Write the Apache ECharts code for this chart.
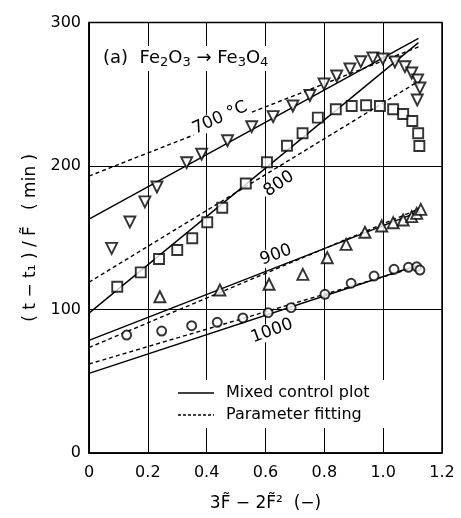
<!DOCTYPE html>
<html><head><meta charset="utf-8">
<script src="https://cdn.jsdelivr.net/npm/echarts@6/dist/echarts.min.js"></script>
<style>html,body{margin:0;padding:0;background:#fff}#c{width:461px;height:518px}</style>
</head><body><div id="c"></div>
<script>
// ---- data ----
const xTicks = [0, 0.2, 0.4, 0.6, 0.8, 1.0, 1.2];
const yTicks = [0, 100, 200, 300];

const pts700 = [[0.077,142.6],[0.139,161],[0.19,175],[0.231,185.4],[0.332,202.3],[0.383,208.2],[0.471,217.6],[0.553,227.4],[0.626,234.4],[0.693,241.8],[0.751,249.1],[0.799,257.1],[0.842,262.7],[0.887,267.6],[0.924,272.7],[0.965,275.3],[0.999,274.6],[1.04,272.5],[1.074,269.2],[1.097,264.8],[1.117,259.9],[1.125,254.4],[1.116,246]];
const pts800 = [[0.096,115.9],[0.176,125.9],[0.238,135.2],[0.300,141.5],[0.351,149.6],[0.402,160.8],[0.453,170.9],[0.533,187.8],[0.605,202.6],[0.673,214.1],[0.726,222.8],[0.778,233.7],[0.839,239.5],[0.893,241.8],[0.942,242.3],[0.989,241.8],[1.034,239.5],[1.068,236.2],[1.099,231.4],[1.119,222.8],[1.123,213.9]];
const pts900 = [[0.241,108.9],[0.445,113.6],[0.612,117.6],[0.727,124.5],[0.81,136.1],[0.874,145.4],[0.938,153.8],[0.995,158.2],[1.034,160.5],[1.068,162.4],[1.097,164.7],[1.114,167],[1.128,169.8]];
const pts1000 = [[0.128,82.2],[0.247,85.0],[0.349,88.7],[0.436,91.1],[0.523,94.1],[0.609,97.8],[0.687,101.3],[0.802,110.6],[0.891,118.3],[0.969,123.3],[1.037,128.0],[1.086,129.4],[1.114,129.8],[1.125,127.5]];

// fitted lines: [x, y] end points
const solid700 = [[0,163],[1.12,289]];
const dash700  = [[0,193],[1.12,283]];
const solid800 = [[0,97.5],[1.12,286]];
const dash800  = [[0,119],[1.12,259]];
const solid900 = [[0,78.5],[1.12,168]];
const dash900  = [[0,73.5],[1.12,170]];
const solid1000 = [[0,55.5],[1.12,131]];
const dash1000  = [[0,62],[1.12,130]];

const FONT = 'DejaVu Sans';
const chart = echarts.init(document.getElementById('c'));

function lineSeries(data, dashed) {
  return { type: 'line', data: data, symbol: 'none', silent: true, z: 3,
    lineStyle: { color: '#000', width: 1.4, type: dashed ? [4, 3] : 'solid' } };
}
function ptSeries(data, symbol, size, rotate) {
  return { type: 'scatter', data: data, symbol: symbol, symbolSize: size, symbolRotate: rotate || 0, z: 5,
    itemStyle: { color: '#fff', borderColor: '#000', borderWidth: 1.9 } };
}

chart.setOption({
  animation: false,
  backgroundColor: '#fff',
  grid: { left: 89, right: 19, top: 22.5, bottom: 65, show: true, borderColor: '#000', borderWidth: 1.5, backgroundColor: 'transparent' },
  xAxis: { type: 'value', min: 0, max: 1.2, interval: 0.2,
    axisLine: { show: true, lineStyle: { color: '#000', width: 1.5 } },
    axisTick: { show: false },
    splitLine: { show: true, lineStyle: { color: '#000', width: 1 } },
    axisLabel: { color: '#000', fontFamily: FONT, fontSize: 16, margin: 12,
      formatter: v => { const t = xTicks.find(a => Math.abs(a - v) < 1e-6); return t === undefined ? '' : (t === 0 ? '0' : t.toFixed(1)); } },
    name: '3F\u0303 \u2212 2F\u0303\u00b2  (\u2212)', nameLocation: 'middle', nameGap: 42,
    nameTextStyle: { color: '#000', fontFamily: FONT, fontSize: 17 } },
  yAxis: { type: 'value', min: 0, max: 300, interval: 100,
    axisLine: { show: true, lineStyle: { color: '#000', width: 1.5 } },
    axisTick: { show: false },
    splitLine: { show: true, lineStyle: { color: '#000', width: 1 } },
    axisLabel: { color: '#000', fontFamily: FONT, fontSize: 16, margin: 8,
      formatter: v => yTicks.includes(v) ? String(v) : '' },
    name: '( t \u2212 t\u2081 ) / F\u0303   ( min )', nameLocation: 'middle', nameGap: 44,
    nameTextStyle: { color: '#000', fontFamily: FONT, fontSize: 17 } },
  graphic: [
    { type: 'text', left: 100, top: 46, z: 10, style: {
        text: '(a)  Fe{s|2}O{s|3} \u2192 Fe{s|3}O{s|4}', fill: '#000', font: '18px ' + FONT,
        backgroundColor: '#fff', padding: [2, 3],
        rich: { s: { fontSize: 13, verticalAlign: 'bottom', padding: [8, 0, 0, 0], fontFamily: FONT } } } },
    { type: 'text', x: 220, y: 118, rotation: 0.42, z: 10, style: { text: '700 \u00b0C', fill: '#000', font: '17px ' + FONT, align: 'center', verticalAlign: 'middle', backgroundColor: '#fff', padding: [0, 2] } },
    { type: 'text', x: 279, y: 184, rotation: 0.6, z: 10, style: { text: '800', fill: '#000', font: '17px ' + FONT, align: 'center', verticalAlign: 'middle', backgroundColor: '#fff', padding: [0, 2] } },
    { type: 'text', x: 276, y: 255, rotation: 0.35, z: 10, style: { text: '900', fill: '#000', font: '17px ' + FONT, align: 'center', verticalAlign: 'middle', backgroundColor: '#fff', padding: [0, 2] } },
    { type: 'text', x: 272, y: 331, rotation: 0.35, z: 10, style: { text: '1000', fill: '#000', font: '17px ' + FONT, align: 'center', verticalAlign: 'middle', backgroundColor: '#fff', padding: [0, 2] } },
    { type: 'rect', z: 9, shape: { x: 170, y: 380, width: 265, height: 48 }, style: { fill: '#fff' } },
    { type: 'line', z: 10, shape: { x1: 178, y1: 393, x2: 214, y2: 393 }, style: { stroke: '#000', lineWidth: 1.4 } },
    { type: 'line', z: 10, shape: { x1: 178, y1: 415, x2: 214, y2: 415 }, style: { stroke: '#000', lineWidth: 1.4, lineDash: [3, 2] } },
    { type: 'text', x: 226, y: 393, z: 10, style: { text: 'Mixed control plot', fill: '#000', font: '16px ' + FONT, verticalAlign: 'middle' } },
    { type: 'text', x: 226, y: 415, z: 10, style: { text: 'Parameter fitting', fill: '#000', font: '16px ' + FONT, verticalAlign: 'middle' } }
  ],
  series: [
    lineSeries(solid700, false), lineSeries(dash700, true),
    lineSeries(solid800, false), lineSeries(dash800, true),
    lineSeries(solid900, false), lineSeries(dash900, true),
    lineSeries(solid1000, false), lineSeries(dash1000, true),
    ptSeries(pts700, 'triangle', 11, 180),
    ptSeries(pts800, 'rect', 10),
    ptSeries(pts900, 'triangle', 11),
    ptSeries(pts1000, 'circle', 9)
  ]
});
</script></body></html>
